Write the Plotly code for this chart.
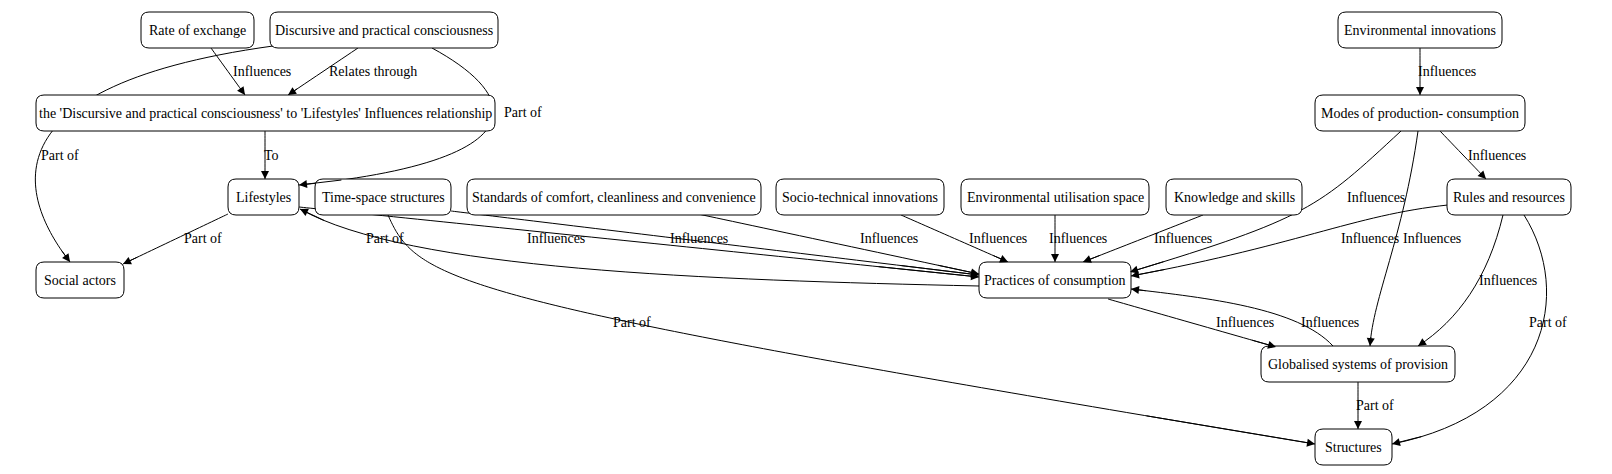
import plotly.graph_objects as go

# ---- data ----
node_names = ["Rate of exchange", "Discursive and practical consciousness",
    "the 'Discursive and practical consciousness' to 'Lifestyles' Influences relationship",
    "Lifestyles", "Time-space structures", "Standards of comfort, cleanliness and convenience",
    "Socio-technical innovations", "Environmental utilisation space", "Knowledge and skills",
    "Social actors", "Practices of consumption", "Environmental innovations",
    "Modes of production- consumption", "Rules and resources",
    "Globalised systems of provision", "Structures"]
edge_sources = [0, 1, 1, 1, 2, 3, 3, 10, 4, 4, 5, 6, 7, 8, 11, 12, 12, 12, 13, 13, 13, 10, 14, 14]
edge_targets = [2, 2, 3, 9, 3, 9, 10, 3, 10, 15, 10, 10, 10, 10, 12, 10, 13, 14, 10, 14, 15, 14, 10, 15]
edge_labels = ["Influences", "Relates through", "Part of", "Part of", "To", "Part of", "Influences",
    "Part of", "Influences", "Part of", "Influences", "Influences", "Influences", "Influences",
    "Influences", "Influences", "Influences", "Influences", "Influences", "Influences", "Part of",
    "Influences", "Influences", "Part of"]

# ---- layout (positions, pixels) ----
node_box = [(133, 246, 4), (262, 490, 4), (28, 487, 87), (220, 291, 171), (307, 443, 171),
    (459, 753, 171), (768, 936, 171), (953, 1141, 171), (1158, 1294, 171), (28, 116, 254),
    (971, 1123, 254), (1330, 1494, 4), (1307, 1517, 87), (1439, 1563, 171), (1253, 1447, 338),
    (1307, 1384, 421)]
NH = 36
edge_paths = [
    [(203, 40), (237, 87)], [(350, 40), (280, 87)],
    [(424, 40), (525, 95), (515, 155), (291, 177)],
    [(265, 38), (-40, 80), (20, 200), (62, 254)],
    [(257, 123), (257, 171)], [(220, 206), (115, 256)],
    [(291, 199), (971, 269)],
    [(971, 278), (700, 272), (400, 262), (292, 201)],
    [(443, 203), (971, 267)],
    [(380, 207), (410, 275), (440, 292), (1307, 436)],
    [(690, 206), (971, 266)], [(893, 207), (1000, 254)], [(1047, 207), (1047, 254)],
    [(1195, 207), (1075, 254)], [(1412, 40), (1412, 87)],
    [(1393, 123), (1310, 200), (1300, 210), (1122, 264)],
    [(1432, 123), (1478, 171)],
    [(1410, 123), (1395, 230), (1365, 290), (1362, 338)],
    [(1450, 196), (1350, 205), (1300, 235), (1123, 268)],
    [(1495, 207), (1480, 270), (1450, 312), (1410, 338)],
    [(1516, 207), (1565, 285), (1540, 405), (1384, 436)],
    [(1100, 291), (1268, 339)],
    [(1325, 338), (1290, 300), (1200, 290), (1123, 281)],
    [(1350, 374), (1350, 421)]]
label_pos = [(254, 63), (365, 63), (515, 104), (52, 147), (263, 147), (195, 230), (548, 230),
    (377, 230), (691, 230), (624, 314), (881, 230), (990, 230), (1070, 230), (1175, 230),
    (1439, 63), (1368, 189), (1489, 147), (1424, 230), (1362, 230), (1500, 272), (1540, 314),
    (1237, 314), (1322, 314), (1367, 397)]

FONT = dict(family="Liberation Serif, Times New Roman, serif", size=14, color="black")
shapes, anns = [], []

def rrect(x0, x1, y0, y1, r=8):
    return (f"M{x0+r},{y0} L{x1-r},{y0} Q{x1},{y0} {x1},{y0+r} L{x1},{y1-r} Q{x1},{y1} {x1-r},{y1} "
            f"L{x0+r},{y1} Q{x0},{y1} {x0},{y1-r} L{x0},{y0+r} Q{x0},{y0} {x0+r},{y0} Z")

for name, (x0, x1, y0) in zip(node_names, node_box):
    shapes.append(dict(type="path", path=rrect(x0, x1, y0, y0 + NH), xref="x", yref="y",
                       line=dict(color="black", width=1), fillcolor="white", layer="above"))
    anns.append(dict(x=(x0 + x1) / 2, y=y0 + NH / 2, text=name, showarrow=False, font=FONT,
                     xref="x", yref="y"))

def bez(p, t):
    (a, b, c, d) = p
    mt = 1 - t
    return (mt**3*a[0] + 3*mt*mt*t*b[0] + 3*mt*t*t*c[0] + t**3*d[0],
            mt**3*a[1] + 3*mt*mt*t*b[1] + 3*mt*t*t*c[1] + t**3*d[1])

for pts, lab, lp in zip(edge_paths, edge_labels, label_pos):
    if len(pts) == 2:
        s, e = pts
        pts = [s, s, e, e]
        tx, ty = s[0] + 0.85 * (e[0] - s[0]), s[1] + 0.85 * (e[1] - s[1])
    else:
        tx, ty = bez(pts, 0.93)
    a, b, c, d = pts
    shapes.append(dict(type="path", xref="x", yref="y", line=dict(color="black", width=1),
                       path=f"M{a[0]},{a[1]} C{b[0]},{b[1]} {c[0]},{c[1]} {d[0]},{d[1]}",
                       layer="below"))
    anns.append(dict(x=d[0], y=d[1], ax=tx, ay=ty, axref="x", ayref="y", xref="x", yref="y",
                     text="", showarrow=True, arrowhead=2, arrowsize=1.6, arrowwidth=1,
                     arrowcolor="black", standoff=0))
    anns.append(dict(x=lp[0], y=lp[1], text=lab, showarrow=False, font=FONT, xref="x", yref="y"))

fig = go.Figure()
fig.update_layout(width=1612, height=474, margin=dict(l=0, r=0, t=0, b=0),
                  plot_bgcolor="white", paper_bgcolor="white", shapes=shapes, annotations=anns,
                  xaxis=dict(range=[0, 1612], visible=False, fixedrange=True),
                  yaxis=dict(range=[474, 0], visible=False, fixedrange=True), showlegend=False)
fig.write_html("out.html")
